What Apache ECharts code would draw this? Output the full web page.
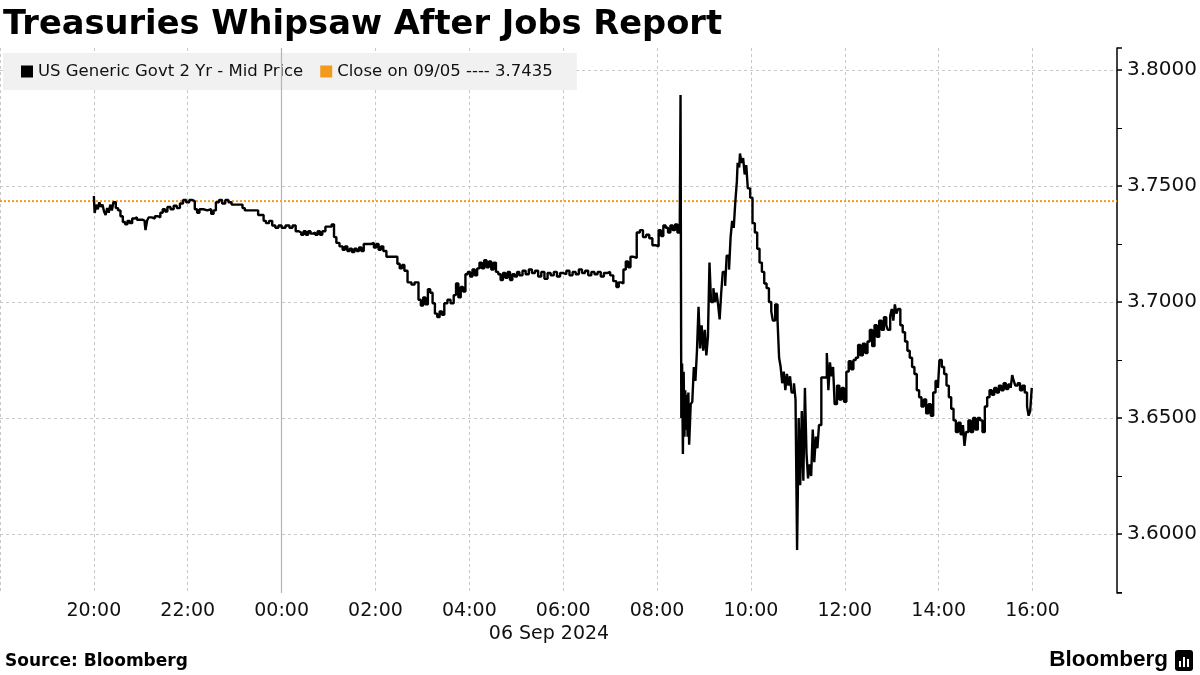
<!DOCTYPE html>
<html>
<head>
<meta charset="utf-8">
<script src="https://cdn.jsdelivr.net/npm/echarts@6/dist/echarts.min.js"></script>
<style>html,body{margin:0;padding:0;background:#fff}#c{width:1200px;height:675px}</style>
</head>
<body>
<div id="c"></div>
<script>
const titleText = 'Treasuries Whipsaw After Jobs Report';
const seriesName = 'US Generic Govt 2 Yr - Mid Price';
const closeName = 'Close on 09/05 ---- 3.7435';
const closeValue = 3.7435;
const dateLabel = '06 Sep 2024';
const sourceText = 'Source: Bloomberg';

const times = [
"20:00","20:01","20:03","20:05","20:07","20:09","20:11","20:13","20:15","20:17","20:19","20:21","20:23","20:25","20:28","20:31","20:34","20:37","20:40","20:43","20:46","20:49","20:52","20:55","21:02","21:05","21:06","21:08","21:10","21:14","21:18","21:22","21:25","21:28","21:31","21:34","21:38","21:42","21:46","21:50","21:54","21:58","22:02","22:06","22:09","22:12","22:15","22:20","22:25","22:30","22:33","22:36","22:40","22:44","22:48","22:52","22:56","23:10","23:13","23:30","23:37","23:40","23:44","23:48","23:52","23:56",
"00:00","00:05","00:10","00:14","00:18","00:22","00:25","00:28","00:31","00:34","00:37","00:40","00:43","00:46","00:49","00:52","00:56","01:04","01:07","01:10","01:14","01:18","01:21","01:24","01:27","01:30","01:33","01:36","01:39","01:42","01:45","01:54","01:58","02:01","02:04","02:07","02:10","02:14","02:28","02:31","02:34","02:37","02:41","02:46","02:50","02:55","02:58","03:01","03:04","03:07","03:10","03:13","03:16","03:19","03:22","03:25","03:28","03:32","03:36","03:40","03:43","03:46","03:49","03:52","03:55","03:58","04:01","04:04","04:07","04:10","04:13","04:16","04:19","04:22","04:25","04:28","04:31",
"04:34","04:37","04:40","04:43","04:46","04:49","04:52","04:55","04:58","05:01","05:04","05:08","05:12","05:16","05:20","05:24","05:28","05:32","05:36","05:40","05:44","05:48","05:52","05:56","06:00","06:04","06:08","06:12","06:16","06:20","06:24","06:28","06:32","06:36","06:40","06:44","06:48","06:52","06:56","07:00","07:04","07:08","07:11","07:14","07:17","07:20","07:23","07:26","07:30","07:34","07:38","07:42","07:46","07:50","07:54","07:58","08:02","08:05","08:08","08:11","08:14","08:17","08:20","08:23","08:26","08:29",
"08:30","08:31","08:32","08:33","08:34","08:35","08:36","08:37","08:38","08:39","08:40","08:41","08:43","08:45","08:47","08:49","08:51","08:53","08:55","08:57","08:59","09:01","09:03","09:05","09:07","09:09","09:12","09:14","09:16","09:18","09:20","09:22","09:24","09:27","09:29","09:32","09:34","09:36","09:38","09:40","09:42","09:43","09:45","09:46","09:48","09:50","09:52","09:54","09:56","09:59","10:02","10:05","10:08","10:11","10:14","10:17","10:20","10:23","10:26","10:28","10:31","10:34",
"10:36","10:38","10:40","10:42","10:44","10:46","10:48","10:50","10:52","10:55","10:57","10:59","11:00","11:01","11:03","11:05","11:07","11:09","11:11","11:13","11:15","11:17","11:19","11:21","11:23","11:25","11:27","11:30","11:37","11:39","11:41","11:43","11:45","11:47","11:50","11:53","11:56","11:59","12:02","12:05","12:08","12:11","12:14","12:17","12:20","12:23","12:26","12:29","12:32","12:35","12:38","12:41","12:44","12:47","12:50","12:53","12:55","12:58","13:00","13:02","13:04","13:06","13:08","13:11","13:14","13:17","13:20","13:23","13:26","13:29","13:32","13:35","13:38","13:41","13:44","13:47","13:50","13:53","13:56","13:59","14:01","14:04","14:07","14:10","14:13","14:16","14:19","14:22","14:25","14:28","14:31","14:33","14:35","14:38","14:41","14:44","14:47","14:50","14:53","14:56","14:59","15:02","15:05","15:08","15:11","15:14","15:17","15:20","15:23","15:26","15:29","15:32","15:34","15:36","15:38","15:41","15:44","15:47","15:50","15:53","15:55","15:57","15:59"
];

const yields = [
3.7457,3.7384,3.7420,3.7400,3.7430,3.7410,3.7420,3.7390,3.7375,3.7405,3.7385,3.7420,3.7395,3.7430,3.7405,3.7395,3.7370,3.7345,3.7335,3.7350,3.7340,3.7360,3.7365,3.7355,3.7350,3.7340,3.7310,3.7350,3.7365,3.7360,3.7370,3.7365,3.7385,3.7400,3.7390,3.7410,3.7400,3.7415,3.7405,3.7425,3.7440,3.7430,3.7440,3.7435,3.7400,3.7385,3.7400,3.7395,3.7400,3.7380,3.7395,3.7430,3.7440,3.7425,3.7440,3.7430,3.7420,3.7405,3.7395,3.7375,3.7350,3.7340,3.7350,3.7330,3.7320,3.7330,
3.7320,3.7330,3.7320,3.7330,3.7305,3.7300,3.7290,3.7305,3.7290,3.7305,3.7295,3.7300,3.7290,3.7305,3.7290,3.7305,3.7325,3.7335,3.7280,3.7255,3.7240,3.7225,3.7240,3.7220,3.7230,3.7215,3.7230,3.7220,3.7235,3.7220,3.7250,3.7255,3.7235,3.7250,3.7225,3.7240,3.7220,3.7195,3.7165,3.7145,3.7160,3.7135,3.7085,3.7075,3.7085,3.7010,3.6985,3.7020,3.6990,3.7055,3.7040,3.6995,3.6950,3.6935,3.6960,3.6945,3.6995,3.7010,3.6995,3.7030,3.7080,3.7020,3.7065,3.7045,3.7120,3.7130,3.7110,3.7140,3.7115,3.7145,3.7170,3.7145,3.7180,3.7150,3.7175,3.7140,3.7170,
3.7130,3.7120,3.7095,3.7125,3.7105,3.7130,3.7095,3.7120,3.7110,3.7130,3.7115,3.7135,3.7120,3.7140,3.7125,3.7135,3.7110,3.7130,3.7100,3.7125,3.7115,3.7130,3.7110,3.7125,3.7120,3.7135,3.7115,3.7130,3.7120,3.7140,3.7125,3.7135,3.7115,3.7130,3.7120,3.7130,3.7110,3.7125,3.7130,3.7115,3.7090,3.7065,3.7085,3.7080,3.7140,3.7175,3.7150,3.7195,3.7190,3.7300,3.7310,3.7280,3.7290,3.7275,3.7245,3.7240,3.7310,3.7285,3.7330,3.7320,3.7300,3.7330,3.7310,3.7335,3.7300,3.7320,
3.7892,3.6500,3.6735,3.6345,3.6700,3.6420,3.6620,3.6450,3.6600,3.6420,3.6610,3.6385,3.6560,3.6570,3.6720,3.6660,3.6790,3.6980,3.6800,3.6900,3.6790,3.6880,3.6770,3.6850,3.7170,3.7000,3.7060,3.7000,3.7040,3.6990,3.6925,3.7040,3.7130,3.7070,3.7200,3.7140,3.7280,3.7350,3.7320,3.7430,3.7520,3.7600,3.7580,3.7640,3.7600,3.7620,3.7550,3.7590,3.7490,3.7450,3.7340,3.7300,3.7230,3.7170,3.7130,3.7080,3.7060,3.7000,3.6960,3.6920,3.6990,3.6920,
3.6760,3.6720,3.6650,3.6700,3.6620,3.6690,3.6640,3.6680,3.6610,3.6650,3.6580,3.5931,3.6200,3.6500,3.6210,3.6530,3.6230,3.6630,3.6350,3.6240,3.6300,3.6250,3.6450,3.6310,3.6420,3.6370,3.6470,3.6675,3.6780,3.6620,3.6740,3.6680,3.6720,3.6560,3.6640,3.6580,3.6630,3.6570,3.6700,3.6745,3.6710,3.6750,3.6760,3.6815,3.6770,3.6820,3.6780,3.6830,3.6880,3.6810,3.6900,3.6850,3.6920,3.6880,3.6935,3.6900,3.6880,3.6940,3.6970,3.6920,3.6990,3.6950,3.6970,3.6900,3.6870,3.6830,3.6790,3.6760,3.6720,3.6690,3.6620,3.6590,3.6550,3.6580,3.6520,3.6560,3.6510,3.6610,3.6660,3.6630,3.6750,3.6720,3.6690,3.6640,3.6590,3.6540,3.6490,3.6440,3.6480,3.6430,3.6470,3.6380,3.6440,3.6490,3.6440,3.6500,3.6450,3.6500,3.6490,3.6440,3.6550,3.6590,3.6620,3.6600,3.6630,3.6610,3.6640,3.6620,3.6650,3.6625,3.6645,3.6630,3.6685,3.6660,3.6640,3.6650,3.6620,3.6640,3.6610,3.6550,3.6510,3.6530,3.6630
];

const xTickHours = [0,2,4,6,8,10,12,14,16,18,20,22];
const xMin = 0, xMax = 23.8;
const yMin = 3.5746, yMax = 3.8095;

function toHours(t){
  const p = t.split(':').map(Number);
  return (p[0] >= 18 ? p[0] - 18 : p[0] + 6) + p[1] / 60;
}
function hourLabel(h){
  const hh = (18 + Math.round(h)) % 24;
  return (hh < 10 ? '0' : '') + hh + ':00';
}
const lineData = times.map((t, i) => [toHours(t), yields[i]]);
const closeData = [[xMin, closeValue], [xMax, closeValue]];

const FONT = '"DejaVu Sans", Verdana, sans-serif';
const chart = echarts.init(document.getElementById('c'), null, {renderer: 'canvas'});
chart.setOption({
  animation: false,
  backgroundColor: '#ffffff',
  textStyle: {fontFamily: FONT},
  grid: {left: 0, right: 81, top: 48, bottom: 82, containLabel: false},
  legend: {
    left: 3, top: 53,
    padding: [10, 24, 10, 18],
    backgroundColor: '#f1f1f1',
    itemWidth: 12, itemHeight: 12, itemGap: 17,
    icon: 'rect',
    textStyle: {fontFamily: FONT, fontSize: 16.5, color: '#111'},
    data: [seriesName, closeName]
  },
  xAxis: {
    type: 'value', min: xMin, max: xMax, interval: 2,
    axisLine: {show: false, onZero: false}, axisTick: {show: false},
    axisLabel: {
      fontFamily: FONT, fontSize: 19, color: '#111', margin: 9,
      showMinLabel: false, showMaxLabel: false,
      formatter: v => xTickHours.indexOf(Math.round(v)) >= 0 && Math.abs(v - Math.round(v)) < 1e-6 ? hourLabel(v) : ''
    },
    splitLine: {show: true, showMaxLine: false, lineStyle: {color: '#c8c8c8', type: [3, 3], width: 1}}
  },
  yAxis: {
    type: 'value', position: 'right', min: yMin, max: yMax, splitNumber: 5, scale: true,
    axisLine: {show: true, onZero: false, lineStyle: {color: '#000', width: 1.5}},
    axisTick: {show: true, length: 5, lineStyle: {color: '#000', width: 1.5}},
    minorTick: {show: true, splitNumber: 2, length: 5, lineStyle: {color: '#000', width: 1}},
    axisLabel: {
      fontFamily: FONT, fontSize: 20, color: '#111', margin: 10,
      showMinLabel: false, showMaxLabel: false,
      formatter: v => v.toFixed(4)
    },
    splitLine: {show: true, showMinLine: false, showMaxLine: false, lineStyle: {color: '#c8c8c8', type: [3, 3], width: 1}}
  },
  series: [
    {
      name: seriesName, type: 'line', step: 'end', data: lineData,
      showSymbol: false, symbol: 'none', color: '#000',
      lineStyle: {color: '#000', width: 2.4}, z: 5,
      markLine: {
        silent: true, symbol: 'none', label: {show: false},
        lineStyle: {color: '#b4b4b4', type: 'solid', width: 1.2},
        data: [{xAxis: toHours('00:00')}]
      }
    },
    {
      name: closeName, type: 'line', data: closeData,
      showSymbol: false, symbol: 'none', color: '#f39a1c',
      lineStyle: {color: '#f39a1c', width: 2, type: [2, 2]}, z: 3
    }
  ],
  graphic: [
    {type: 'text', left: 3, top: 8, style: {text: titleText, fontFamily: FONT, fontSize: 33.7, fontWeight: 'bold', fill: '#000'}},
    {type: 'text', left: 5, top: 653, style: {text: sourceText, fontFamily: FONT, fontSize: 17, fontWeight: 'bold', fill: '#000'}},
    {type: 'text', x: 549, y: 634, style: {text: dateLabel, fontFamily: FONT, fontSize: 19, fill: '#111', align: 'center', verticalAlign: 'middle'}},
    {type: 'text', right: 32, top: 648, style: {text: 'Bloomberg', fontFamily: '"Liberation Sans", Arial, sans-serif', fontSize: 22.5, fontWeight: 'bold', fill: '#000'}},
    {type: 'rect', shape: {x: 1175, y: 650, width: 18, height: 21, r: 3}, style: {fill: '#000'}},
    {type: 'rect', shape: {x: 1179, y: 661, width: 2, height: 6}, style: {fill: '#fff'}},
    {type: 'rect', shape: {x: 1183, y: 657, width: 2, height: 10}, style: {fill: '#fff'}},
    {type: 'rect', shape: {x: 1187, y: 659, width: 2, height: 8}, style: {fill: '#fff'}},
    {type: 'rect', shape: {x: 10, y: 66, width: 7, height: 6}, style: {fill: 'none', stroke: '#888', lineWidth: 1}},
    {type: 'line', shape: {x1: 13.5, y1: 72, x2: 13.5, y2: 79}, style: {stroke: '#888', lineWidth: 1}}
  ]
});
</script>
</body>
</html>
